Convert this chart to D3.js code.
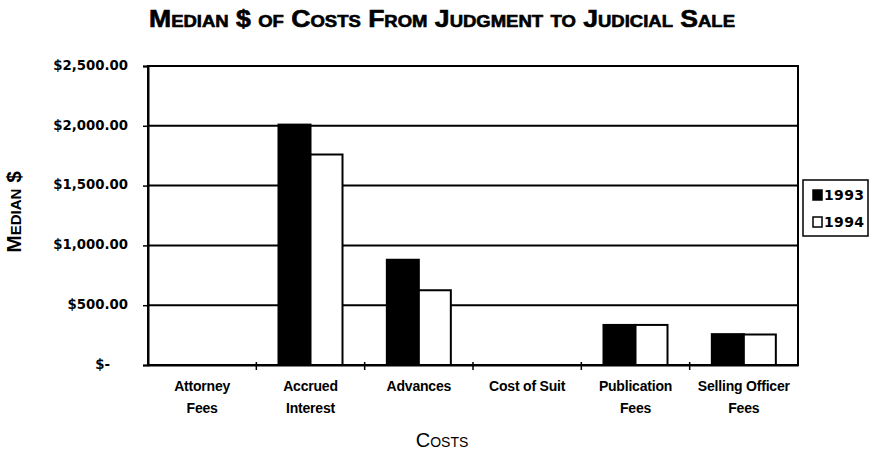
<!DOCTYPE html>
<html>
<head>
<meta charset="utf-8">
<script src="https://cdn.jsdelivr.net/npm/d3@7"></script>
<style>
  body { margin: 0; background: #fff; }
  text { fill: #000; }
  .chart-title { font-family: "Liberation Sans", Arial, sans-serif; font-size: 23px; font-weight: bold; font-variant: small-caps; stroke: #000; stroke-width: 0.6px; }
  .tick-label { font-family: "DejaVu Sans", sans-serif; font-size: 13.3px; font-weight: bold; }
  .cat-label { font-family: "Liberation Sans", Arial, sans-serif; font-size: 14px; font-weight: bold; letter-spacing: -0.2px; }
  .axis-label { font-family: "Liberation Sans", Arial, sans-serif; font-size: 20px; font-variant: small-caps; }
  .legend-label { font-family: "DejaVu Sans", sans-serif; font-size: 14px; font-weight: bold; }
</style>
</head>
<body>
<svg id="chart"></svg>
<script>
// data
const categories = [
  ["Attorney", "Fees"],
  ["Accrued", "Interest"],
  ["Advances"],
  ["Cost of Suit"],
  ["Publication", "Fees"],
  ["Selling Officer", "Fees"],
];
const seriesNames = ["1993", "1994"];
const values1993 = [0, 2010, 880, 0, 335, 258];
const values1994 = [0, 1760, 625, 0, 335, 255];
const yTicks = [0, 500, 1000, 1500, 2000, 2500];

const width = 878;
const height = 452;
const margin = { top: 66, right: 80, bottom: 87, left: 148 };
const plotW = width - margin.left - margin.right;
const plotH = height - margin.top - margin.bottom;

const svg = d3.select("#chart").attr("width", width).attr("height", height);
const chart = svg.append("g").attr("transform", `translate(${margin.left}, ${margin.top})`);

const catIdx = d3.range(categories.length);
const x = d3.scaleBand().domain(catIdx).range([0, plotW]);
const barW = 32;
const xSub = d3.scaleBand().domain(seriesNames).range([x.bandwidth() / 2 - barW, x.bandwidth() / 2 + barW]);
const y = d3.scaleLinear().domain([0, 2500]).range([plotH, 0]);

const fmt = (v) => (v === 0 ? "$-" : "$" + d3.format(",.2f")(v));

// title
svg.append("text")
  .attr("class", "chart-title")
  .attr("x", 149)
  .attr("y", 27)
  .attr("textLength", 586)
  .attr("lengthAdjust", "spacingAndGlyphs")
  .text("Median $ of Costs From Judgment to Judicial Sale");

// gridlines
chart.append("g")
  .selectAll("line")
  .data(yTicks.filter((t) => t > 0 && t < 2500))
  .join("line")
  .attr("x1", 0)
  .attr("x2", plotW)
  .attr("y1", (d) => y(d))
  .attr("y2", (d) => y(d))
  .attr("stroke", "#000")
  .attr("stroke-width", 2);

// bars
const series = [
  { name: "1993", values: values1993, fill: "#000" },
  { name: "1994", values: values1994, fill: "#fff" },
];
series.forEach((s) => {
  chart.append("g")
    .selectAll("rect")
    .data(s.values.map((v, i) => ({ i, v })).filter((d) => d.v > 0))
    .join("rect")
    .attr("x", (d) => x(d.i) + xSub(s.name))
    .attr("y", (d) => y(d.v))
    .attr("width", xSub.bandwidth())
    .attr("height", (d) => y(0) - y(d.v))
    .attr("fill", s.fill)
    .attr("stroke", "#000")
    .attr("stroke-width", 2);
});

// plot border
chart.append("rect")
  .attr("width", plotW)
  .attr("height", plotH)
  .attr("fill", "none")
  .attr("stroke", "#000")
  .attr("stroke-width", 2);

// y axis
const yAxis = chart.append("g")
  .call(d3.axisLeft(y).tickValues(yTicks).tickSize(5).tickFormat(fmt))
  .attr("font-family", null)
  .attr("font-size", null);
yAxis.select(".domain").attr("stroke-width", 2);
yAxis.selectAll(".tick line").attr("stroke-width", 1.5);
yAxis.selectAll(".tick text")
  .attr("class", "tick-label")
  .attr("x", (d) => (d === 0 ? -38 : -20))
  .attr("dy", "0.25em");

// x axis
const xAxis = chart.append("g")
  .attr("transform", `translate(0, ${plotH})`)
  .call(d3.axisBottom(x).tickSize(0).tickFormat(""));
xAxis.select(".domain").attr("stroke-width", 2);
chart.append("g")
  .selectAll("line")
  .data(d3.range(1, categories.length))
  .join("line")
  .attr("x1", (d) => x(d))
  .attr("x2", (d) => x(d))
  .attr("y1", plotH - 3)
  .attr("y2", plotH + 5)
  .attr("stroke", "#000")
  .attr("stroke-width", 1.5);

// category labels
const catLabels = chart.append("g")
  .selectAll("text")
  .data(categories)
  .join("text")
  .attr("class", "cat-label")
  .attr("text-anchor", "middle")
  .attr("x", (d, i) => x(i) + x.bandwidth() / 2)
  .attr("y", 391 - margin.top);
catLabels.selectAll("tspan")
  .data((d) => d)
  .join("tspan")
  .attr("x", function () { return this.parentNode.getAttribute("x"); })
  .attr("dy", (d, i) => (i === 0 ? 0 : 22))
  .text((d) => d);

// axis titles
svg.append("text")
  .attr("class", "axis-label")
  .attr("x", 442)
  .attr("y", 447)
  .attr("text-anchor", "middle")
  .text("Costs");

svg.append("text")
  .attr("class", "axis-label")
  .style("font-weight", "bold")
  .style("font-size", "21px")
  .attr("transform", "translate(21, 212) rotate(-90)")
  .attr("text-anchor", "middle")
  .text("Median $");

// legend
const legend = svg.append("g").attr("transform", "translate(803, 180)");
legend.append("rect")
  .attr("width", 65)
  .attr("height", 56)
  .attr("fill", "#fff")
  .attr("stroke", "#000")
  .attr("stroke-width", 1.5);
series.forEach((s, i) => {
  const row = legend.append("g").attr("transform", `translate(10, ${20 + i * 27})`);
  row.append("rect")
    .attr("x", 0)
    .attr("y", -10)
    .attr("width", 9)
    .attr("height", 10)
    .attr("fill", s.fill)
    .attr("stroke", "#000")
    .attr("stroke-width", 1.5);
  row.append("text")
    .attr("class", "legend-label")
    .attr("x", 11)
    .attr("y", 0)
    .attr("textLength", 40)
    .text(s.name);
});
</script>
</body>
</html>
